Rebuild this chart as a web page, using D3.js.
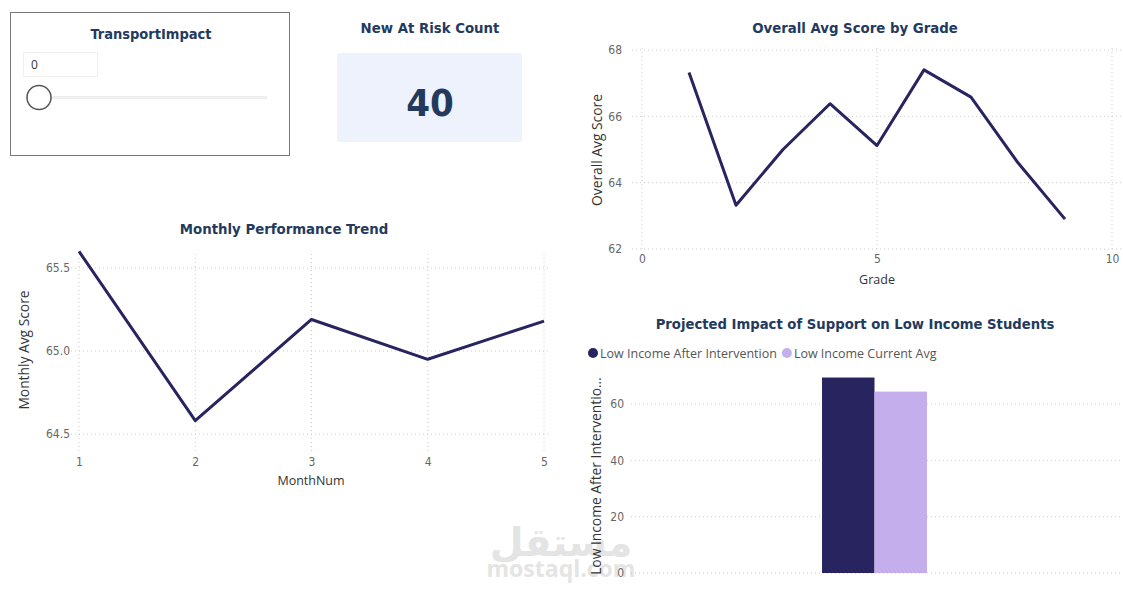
<!DOCTYPE html>
<meta charset="utf-8">
<script src="https://cdn.jsdelivr.net/npm/d3@7/dist/d3.min.js"></script>
<style>
  body { margin: 0; background: #fff; }
  svg { display: block; }
  .title { font-family: "DejaVu Sans Condensed", "DejaVu Sans", sans-serif; font-weight: bold; fill: #233a5e; }
  .tick text { font-family: "DejaVu Sans Condensed", sans-serif; fill: #666; font-size: 12px; }
  .axis-title { font-family: "Open Sans", sans-serif; fill: #333; font-size: 12.5px; }
  .axis-title.v { font-size: 13.8px; }
  .grid line { stroke: #ccc; stroke-dasharray: 1 3; }
  .legend text { font-family: "Open Sans", sans-serif; fill: #555; font-size: 12.5px; }
</style>
<div id="dash"></div>
<script>
// ---- data ----
var monthNums = [1, 2, 3, 4, 5];
var monthlyAvg = [65.60, 64.58, 65.19, 64.95, 65.18];
var monthTicks = [64.5, 65.0, 65.5];

var grades = [1, 2, 3, 4, 5, 6, 7, 8, 9];
var gradeAvg = [67.32, 63.32, 65.00, 66.38, 65.12, 67.40, 66.58, 64.60, 62.90];
var gradeXTicks = [0, 5, 10];
var gradeYTicks = [62, 64, 66, 68];

var incomeSeries = ["Low Income After Intervention", "Low Income Current Avg"];
var incomeValues = [69.4, 64.4];
var incomeTicks = [0, 20, 40, 60];

var transportValue = 0;
var atRiskCount = 40;

var W = 1123, H = 592;
var navy = "#28245f", lavender = "#c4aeeb";

var svg = d3.select("#dash").append("svg").attr("width", W).attr("height", H);

// watermark
var wm = svg.append("g").attr("fill", "#e4e4e4");
wm.append("text").attr("x", 561).attr("y", 556).attr("text-anchor", "middle")
  .style("font-family", "DejaVu Sans").style("font-weight", "bold").style("font-size", "39px").text("مستقل");
wm.append("text").attr("x", 561).attr("y", 577).attr("text-anchor", "middle")
  .style("font-family", "Open Sans").style("font-weight", "bold").style("font-size", "23px").text("mostaql.com");

// ---- slicer ----
var slicer = svg.append("g");
slicer.append("rect").attr("x", 10.5).attr("y", 12.5).attr("width", 279).attr("height", 143)
  .attr("fill", "#fff").attr("stroke", "#777");
slicer.append("text").attr("class", "title").attr("x", 151).attr("y", 39)
  .attr("text-anchor", "middle").style("font-size", "14.5px").text("TransportImpact");
slicer.append("rect").attr("x", 23.5).attr("y", 52.5).attr("width", 74).attr("height", 24)
  .attr("fill", "#fff").attr("stroke", "#efefef");
slicer.append("text").attr("x", 31).attr("y", 69).style("font-family", "Open Sans")
  .style("font-size", "12px").attr("fill", "#333").text(transportValue);
var sx = d3.scaleLinear().domain([0, 1]).range([39, 267]);
slicer.append("line").attr("x1", sx(0)).attr("x2", sx(1)).attr("y1", 97.5).attr("y2", 97.5)
  .attr("stroke", "#eeeeee").attr("stroke-width", 3);
slicer.append("circle").attr("cx", sx(transportValue)).attr("cy", 97.5).attr("r", 12)
  .attr("fill", "#fff").attr("stroke", "#555").attr("stroke-width", 1.5);

// ---- card ----
var card = svg.append("g");
card.append("text").attr("class", "title").attr("x", 430).attr("y", 33)
  .attr("text-anchor", "middle").style("font-size", "14.8px").text("New At Risk Count");
card.append("rect").attr("x", 337).attr("y", 53).attr("width", 185).attr("height", 89)
  .attr("rx", 3).attr("fill", "#eef2fc");
card.append("text").attr("x", 430).attr("y", 116).attr("text-anchor", "middle")
  .style("font-family", "DejaVu Sans Condensed").style("font-weight", "bold")
  .style("font-size", "38px").attr("fill", "#233a5e").text(atRiskCount);

// ---- generic line chart ----
function lineChart(o) {
  var g = svg.append("g");
  g.append("text").attr("class", "title").attr("x", o.titleX).attr("y", o.titleY)
    .attr("text-anchor", "middle").style("font-size", "14.8px").text(o.title);

  var x = d3.scaleLinear().domain(o.xDomain).range([o.x0, o.x1]);
  var y = d3.scaleLinear().domain(o.yDomain).range([o.y0, o.y1]);

  // vertical grid
  g.append("g").attr("class", "grid")
    .selectAll("line").data(o.xTicks).join("line")
    .attr("x1", function(d) { return x(d); }).attr("x2", function(d) { return x(d); })
    .attr("y1", o.vTop).attr("y2", o.vBottom);
  // horizontal grid
  g.append("g").attr("class", "grid")
    .selectAll("line").data(o.yTicks).join("line")
    .attr("x1", o.gridLeft).attr("x2", o.gridRight)
    .attr("y1", function(d) { return y(d); }).attr("y2", function(d) { return y(d); });

  g.append("g").attr("transform", "translate(0," + o.xAxisY + ")")
    .call(d3.axisBottom(x).tickValues(o.xTicks).tickSize(0).tickPadding(0).tickFormat(o.xFormat || d3.format("d")))
    .call(function(a) { a.select(".domain").remove(); });
  g.append("g").attr("transform", "translate(" + o.yAxisX + ",0)")
    .call(d3.axisLeft(y).tickValues(o.yTicks).tickSize(0).tickPadding(0).tickFormat(o.yFormat || d3.format("d")))
    .call(function(a) { a.select(".domain").remove(); });

  var pts = o.xs.map(function(d, i) { return [d, o.ys[i]]; });
  g.append("path").datum(pts)
    .attr("fill", "none").attr("stroke", navy).attr("stroke-width", 3).attr("stroke-linejoin", "round")
    .attr("d", d3.line().x(function(d) { return x(d[0]); }).y(function(d) { return y(d[1]); }));

  g.append("text").attr("class", "axis-title").attr("x", o.xTitleX).attr("y", o.xTitleY)
    .attr("text-anchor", "middle").text(o.xTitle);
  g.append("text").attr("class", "axis-title v")
    .attr("transform", "translate(" + o.yTitleX + "," + o.yTitleY + ") rotate(-90)")
    .attr("text-anchor", "middle").text(o.yTitle);
}

lineChart({
  title: "Overall Avg Score by Grade", titleX: 855, titleY: 33,
  xs: grades, ys: gradeAvg, xDomain: [0, 10], yDomain: [62, 68],
  x0: 642, x1: 1112, y0: 249, y1: 50,
  xTicks: gradeXTicks, yTicks: gradeYTicks,
  vTop: 48, vBottom: 252, gridLeft: 632, gridRight: 1123,
  xAxisY: 254, yAxisX: 622,
  xTitle: "Grade", xTitleY: 284, xTitleX: 877,
  yTitle: "Overall Avg Score", yTitleX: 602, yTitleY: 150
});

lineChart({
  title: "Monthly Performance Trend", titleX: 284, titleY: 234,
  xs: monthNums, ys: monthlyAvg, xDomain: [1, 5], yDomain: [64.5, 65.5],
  x0: 79, x1: 544, y0: 434, y1: 268,
  xTicks: monthNums, yTicks: monthTicks, yFormat: d3.format(".1f"),
  vTop: 254, vBottom: 451, gridLeft: 71, gridRight: 550,
  xAxisY: 457, yAxisX: 70,
  xTitle: "MonthNum", xTitleY: 485, xTitleX: 311,
  yTitle: "Monthly Avg Score", yTitleX: 29, yTitleY: 350
});

// ---- bar chart ----
(function() {
  var g = svg.append("g");
  g.append("text").attr("class", "title").attr("x", 855).attr("y", 329)
    .attr("text-anchor", "middle").style("font-size", "14.7px").text("Projected Impact of Support on Low Income Students");

  var colors = d3.scaleOrdinal().domain(incomeSeries).range([navy, lavender]);

  var leg = g.append("g").attr("class", "legend");
  var lx = 593;
  incomeSeries.forEach(function(s) {
    leg.append("circle").attr("cx", lx).attr("cy", 353).attr("r", 5).attr("fill", colors(s));
    var t = leg.append("text").attr("x", lx + 7).attr("y", 357.5).text(s);
    lx += 7 + t.node().getComputedTextLength() + 10;
  });

  var y = d3.scaleLinear().domain([0, 60]).range([573, 404]);
  var x0 = d3.scaleBand().domain(["Low Income"]).range([631, 1118]).paddingInner(0).paddingOuter(1.82);
  var x1 = d3.scaleBand().domain(incomeSeries).range([x0("Low Income"), x0("Low Income") + x0.bandwidth()]);

  g.append("g").attr("class", "grid")
    .selectAll("line").data(incomeTicks).join("line")
    .attr("x1", 631).attr("x2", 1123)
    .attr("y1", function(d) { return y(d); }).attr("y2", function(d) { return y(d); });

  g.append("g").attr("transform", "translate(624,0)")
    .call(d3.axisLeft(y).tickValues(incomeTicks).tickSize(0).tickPadding(0))
    .call(function(a) { a.select(".domain").remove(); });

  g.append("g").selectAll("rect").data(incomeSeries).join("rect")
    .attr("x", function(d) { return x1(d); })
    .attr("width", x1.bandwidth())
    .attr("y", function(d, i) { return y(incomeValues[i]); })
    .attr("height", function(d, i) { return y(0) - y(incomeValues[i]); })
    .attr("fill", function(d) { return colors(d); });

  g.append("text").attr("class", "axis-title v")
    .attr("transform", "translate(601,476) rotate(-90)")
    .attr("text-anchor", "middle").text("Low Income After Interventio...");
})();
</script>
